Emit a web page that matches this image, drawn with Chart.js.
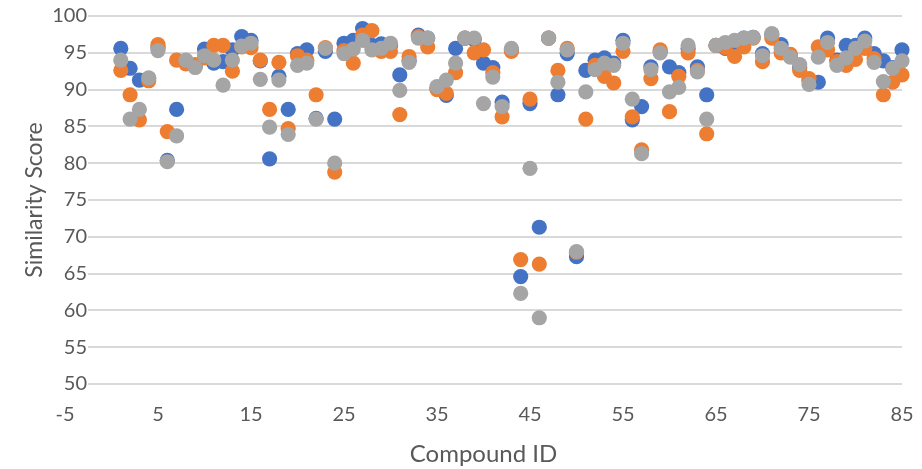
<!DOCTYPE html>
<html>
<head>
<meta charset="utf-8">
<script src="https://cdn.jsdelivr.net/npm/chart.js@4/dist/chart.umd.min.js"></script>
<style>
  html, body { margin: 0; padding: 0; background: #ffffff; }
  canvas { display: block; }
</style>
</head>
<body>
<canvas id="chart" width="922" height="469"></canvas>
<script>
// Compound IDs 1..85
const compoundIds = [
  1, 2, 3, 4, 5, 6, 7, 8, 9, 10, 11, 12, 13, 14, 15, 16, 17, 18, 19, 20,
  21, 22, 23, 24, 25, 26, 27, 28, 29, 30, 31, 32, 33, 34, 35, 36, 37, 38, 39, 40,
  41, 42, 43, 44, 45, 46, 47, 48, 49, 50, 51, 52, 53, 54, 55, 56, 57, 58, 59, 60,
  61, 62, 63, 64, 65, 66, 67, 68, 69, 70, 71, 72, 73, 74, 75, 76, 77, 78, 79, 80,
  81, 82, 83, 84, 85
];

// Similarity scores per compound, one array per series
const series1Scores = [
  95.6, 92.9, 91.3, 91.5, 95.7, 80.4, 87.3, 93.7, 93.2, 95.5,
  93.6, 93.8, 95.4, 97.2, 96.7, 93.9, 80.6, 91.8, 87.3, 94.9,
  95.4, 86.1, 95.2, 86.0, 96.3, 96.7, 98.3, 96.0, 96.2, 96.0,
  92.0, 94.0, 97.4, 97.0, 90.2, 89.2, 95.6, 97.0, 96.8, 93.6,
  93.0, 88.3, 95.4, 64.6, 88.1, 71.3, 97.0, 89.3, 94.9, 67.3,
  92.6, 94.0, 94.3, 93.6, 96.7, 85.9, 87.7, 93.1, 95.2, 93.1,
  92.3, 95.6, 93.1, 89.3, 96.0, 95.6, 96.4, 97.0, 97.1, 94.9,
  97.5, 96.1, 94.5, 93.0, 91.2, 91.0, 97.0, 94.0, 96.0, 96.0,
  97.0, 94.9, 93.9, 93.0, 95.4
];
const series2Scores = [
  92.6, 89.3, 85.9, 91.2, 96.1, 84.3, 94.0, 93.5, 93.4, 94.3,
  96.0, 96.0, 92.5, 95.8, 95.7, 94.0, 87.3, 93.7, 84.7, 94.6,
  94.0, 89.3, 95.7, 78.8, 95.3, 93.6, 97.4, 98.0, 95.2, 95.2,
  86.6, 94.5, 97.2, 95.8, 90.0, 89.5, 92.3, 97.0, 95.0, 95.4,
  92.3, 86.3, 95.2, 66.9, 88.7, 66.3, 97.0, 92.6, 95.6, 67.9,
  86.0, 93.3, 91.8, 90.9, 95.2, 86.3, 81.8, 91.5, 95.4, 87.0,
  91.8, 95.0, 92.6, 84.0, 96.0, 95.7, 94.5, 95.8, 97.0, 93.8,
  97.0, 95.0, 94.8, 92.6, 91.5, 95.8, 95.4, 93.8, 93.3, 94.1,
  95.6, 94.2, 89.3, 91.0, 92.0
];
const series3Scores = [
  94.0, 86.0, 87.3, 91.6, 95.3, 80.2, 83.7, 94.0, 93.0, 94.6,
  94.0, 90.6, 94.0, 95.9, 96.3, 91.4, 84.9, 91.3, 83.9, 93.3,
  93.6, 86.0, 95.6, 80.0, 94.9, 95.5, 96.7, 95.4, 95.6, 96.3,
  89.9, 93.7, 97.0, 97.0, 90.4, 91.3, 93.6, 97.0, 97.0, 88.1,
  91.7, 87.7, 95.6, 62.3, 79.3, 59.0, 97.0, 91.0, 95.4, 68.0,
  89.7, 92.7, 93.6, 93.3, 96.3, 88.7, 81.3, 92.7, 95.0, 89.7,
  90.3, 96.0, 92.4, 86.0, 96.0, 96.4, 96.7, 97.0, 97.1, 94.6,
  97.6, 95.6, 94.4, 93.4, 90.7, 94.4, 96.4, 93.3, 94.3, 95.6,
  96.6, 93.7, 91.1, 92.9, 93.9
];

// Axis tick values
const xTickValues = [-5, 5, 15, 25, 35, 45, 55, 65, 75, 85];
const yTickValues = [50, 55, 60, 65, 70, 75, 80, 85, 90, 95, 100];

const textColor = '#595959';
const fontFamily = 'Lato, "Open Sans", sans-serif';
const tickFontSize = 20;

// Value labels sit inside the plot, right-aligned just before the gridlines
const yLabelRightEdge = 22;
const measureCtx = document.createElement('canvas').getContext('2d');
measureCtx.font = tickFontSize + 'px ' + fontFamily;
const widestYLabel = Math.max(...yTickValues.map(v => measureCtx.measureText(String(v)).width));

function toPoints(values) {
  return compoundIds.map((id, i) => ({ x: id, y: values[i] }));
}

function markerSeries(label, values, color, order) {
  return {
    label: label,
    data: toPoints(values),
    backgroundColor: color,
    borderColor: color,
    borderWidth: 0,
    pointRadius: 7.6,
    pointHoverRadius: 7.6,
    clip: false,
    order: order
  };
}

// Horizontal value gridlines, starting just right of the value labels
const valueGridPlugin = {
  id: 'valueGrid',
  beforeDatasetsDraw(chart) {
    const { ctx, chartArea, scales } = chart;
    const y = scales.y;
    ctx.save();
    ctx.strokeStyle = '#d9d9d9';
    ctx.lineWidth = 2;
    y.ticks.forEach(t => {
      const py = Math.round(y.getPixelForValue(t.value));
      ctx.beginPath();
      ctx.moveTo(chartArea.left + yLabelRightEdge + 1, py);
      ctx.lineTo(chartArea.right, py);
      ctx.stroke();
    });
    ctx.restore();
  }
};

new Chart(document.getElementById('chart'), {
  type: 'scatter',
  data: {
    datasets: [
      markerSeries('Series1', series1Scores, '#4472C4', 3),
      markerSeries('Series2', series2Scores, '#ED7D31', 2),
      markerSeries('Series3', series3Scores, '#A5A5A5', 1)
    ]
  },
  options: {
    responsive: false,
    animation: false,
    devicePixelRatio: 1,
    events: [],
    layout: { padding: { left: 0, top: 16, right: 20, bottom: 0 } },
    plugins: {
      legend: { display: false },
      tooltip: { enabled: false }
    },
    scales: {
      x: {
        type: 'linear',
        min: -5,
        max: 85,
        afterBuildTicks: s => { s.ticks = xTickValues.map(v => ({ value: v })); },
        afterFit: s => {
          s.height = 85;
          s.paddingLeft = 0;
          s.paddingRight = 0;
        },
        grid: { display: false, drawTicks: false },
        border: { display: false },
        ticks: {
          color: textColor,
          font: { family: fontFamily, size: tickFontSize },
          padding: 19,
          maxRotation: 0,
          autoSkip: false
        },
        title: {
          display: true,
          text: 'Compound ID',
          color: textColor,
          font: { family: fontFamily, size: 24 },
          padding: { top: 3, bottom: 0 }
        }
      },
      y: {
        type: 'linear',
        min: 50,
        max: 100,
        afterBuildTicks: s => { s.ticks = yTickValues.map(v => ({ value: v })); },
        afterFit: s => { s.width = 65; },
        grid: { display: false, drawTicks: false },
        border: { display: false },
        ticks: {
          color: textColor,
          font: { family: fontFamily, size: tickFontSize },
          mirror: true,
          crossAlign: 'far',
          padding: yLabelRightEdge - widestYLabel,
          autoSkip: false
        },
        title: {
          display: true,
          text: 'Similarity Score',
          color: textColor,
          font: { family: fontFamily, size: 23 },
          padding: { top: 21, bottom: 0 }
        }
      }
    }
  },
  plugins: [valueGridPlugin]
});
</script>
</body>
</html>
